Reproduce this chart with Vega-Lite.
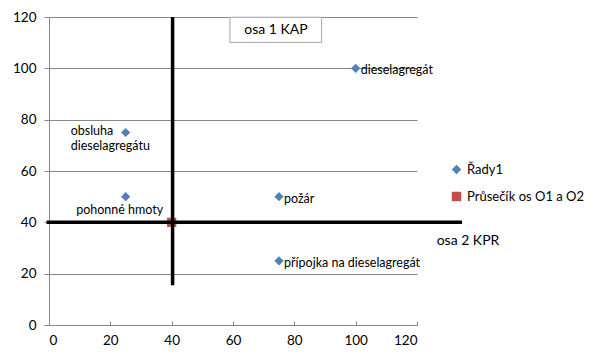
{
  "$schema": "https://vega.github.io/schema/vega-lite/v6.json",
  "width": 368,
  "height": 308,
  "autosize": {"type": "none"},
  "padding": {"left": 49, "top": 17, "right": 188, "bottom": 37},
  "background": "white",
  "config": {
    "view": {"stroke": null},
    "font": "Lato",
    "axis": {"labelFont": "Lato", "labelFontSize": 13.5, "labelColor": "#000000", "domainColor": "#868686", "tickColor": "#868686", "gridColor": "#868686", "gridOpacity": 1, "title": null}
  },
  "datasets": {
    "points": [
      {"name": "dieselagregát", "x": 100, "y": 100, "series": "Řady1"},
      {"name": "obsluha dieselagregátu", "x": 25, "y": 75, "series": "Řady1"},
      {"name": "pohonné hmoty", "x": 25, "y": 50, "series": "Řady1"},
      {"name": "požár", "x": 75, "y": 50, "series": "Řady1"},
      {"name": "přípojka na dieselagregát", "x": 75, "y": 25, "series": "Řady1"},
      {"name": "Průsečík", "x": 40, "y": 40, "series": "Průsečík os O1 a O2"}
    ],
    "axes": [
      {"id": "osa1", "x": 40.3, "y": 120},
      {"id": "osa1", "x": 40.3, "y": 15.5},
      {"id": "osa2", "x": -0.8, "y": 40},
      {"id": "osa2", "x": 134.7, "y": 40}
    ],
    "box": [{"label": "osa 1 KAP", "x": 59, "x2": 88.9, "y": 119.9, "y2": 110.1, "tx": 74, "ty": 115}],
    "note": [{"label": "osa 2 KPR", "x": 126.4, "y": 32.7}]
  },
  "layer": [
    {
      "data": {"name": "points"},
      "mark": {"type": "point", "filled": true, "opacity": 1, "clip": false},
      "encoding": {
        "x": {"field": "x", "type": "quantitative", "scale": {"domain": [0, 120], "nice": false}, "axis": {"values": [0, 20, 40, 60, 80, 100, 120], "grid": false, "tickSize": -4, "labelPadding": 12}},
        "y": {"field": "y", "type": "quantitative", "scale": {"domain": [0, 120], "nice": false}, "axis": {"values": [0, 20, 40, 60, 80, 100, 120], "grid": true, "tickSize": 5, "labelPadding": 8}},
        "color": {"field": "series", "type": "nominal", "scale": {"domain": ["Řady1", "Průsečík os O1 a O2"], "range": ["#4F81BD", "#C0504D"]}, "legend": {"title": null, "orient": "none", "legendX": 401, "legendY": 146, "labelFontSize": 13, "labelFont": "Lato", "labelColor": "#000000", "symbolSize": 90, "rowPadding": 13, "symbolStrokeWidth": 0}},
        "shape": {"field": "series", "type": "nominal", "scale": {"domain": ["Řady1", "Průsečík os O1 a O2"], "range": ["diamond", "square"]}, "legend": {"title": null, "orient": "none", "legendX": 401, "legendY": 146, "labelFontSize": 13, "labelFont": "Lato", "labelColor": "#000000", "symbolSize": 90, "rowPadding": 13}},
        "size": {"value": 85}
      }
    },
    {
      "data": {"name": "axes"},
      "mark": {"type": "line", "color": "#000000", "strokeWidth": 3.5, "clip": false},
      "encoding": {
        "x": {"field": "x", "type": "quantitative"},
        "y": {"field": "y", "type": "quantitative"},
        "detail": {"field": "id"}
      }
    },
    {
      "data": {"name": "points"},
      "transform": [{"filter": "datum.name == 'dieselagregát' || datum.name == 'požár' || datum.name == 'přípojka na dieselagregát'"}],
      "mark": {"type": "text", "align": "left", "baseline": "middle", "dx": 5, "dy": 2, "fontSize": 12.5, "font": "Lato", "color": "#000000"},
      "encoding": {"x": {"field": "x", "type": "quantitative"}, "y": {"field": "y", "type": "quantitative"}, "text": {"field": "name"}}
    },
    {
      "data": {"name": "points"},
      "transform": [{"filter": "datum.name == 'obsluha dieselagregátu'"}],
      "mark": {"type": "text", "align": "left", "baseline": "top", "dx": -55, "dy": -8, "fontSize": 12.5, "font": "Lato", "color": "#000000", "lineBreak": " ", "lineHeight": 15.5},
      "encoding": {"x": {"field": "x", "type": "quantitative"}, "y": {"field": "y", "type": "quantitative"}, "text": {"field": "name"}}
    },
    {
      "data": {"name": "points"},
      "transform": [{"filter": "datum.name == 'pohonné hmoty'"}],
      "mark": {"type": "text", "align": "center", "baseline": "middle", "dx": -6, "dy": 13, "fontSize": 12.5, "font": "Lato", "color": "#000000"},
      "encoding": {"x": {"field": "x", "type": "quantitative"}, "y": {"field": "y", "type": "quantitative"}, "text": {"field": "name"}}
    },
    {
      "data": {"name": "box"},
      "mark": {"type": "rect", "fill": "white", "stroke": "#A6A6A6", "strokeWidth": 1},
      "encoding": {"x": {"field": "x", "type": "quantitative"}, "x2": {"field": "x2"}, "y": {"field": "y", "type": "quantitative"}, "y2": {"field": "y2"}}
    },
    {
      "data": {"name": "box"},
      "mark": {"type": "text", "align": "center", "baseline": "middle", "fontSize": 14, "font": "Lato", "color": "#000000"},
      "encoding": {"x": {"field": "tx", "type": "quantitative"}, "y": {"field": "ty", "type": "quantitative"}, "text": {"field": "label"}}
    },
    {
      "data": {"name": "note"},
      "mark": {"type": "text", "align": "left", "baseline": "middle", "fontSize": 14, "font": "Lato", "color": "#000000", "clip": false},
      "encoding": {"x": {"field": "x", "type": "quantitative"}, "y": {"field": "y", "type": "quantitative"}, "text": {"field": "label"}}
    }
  ]
}
